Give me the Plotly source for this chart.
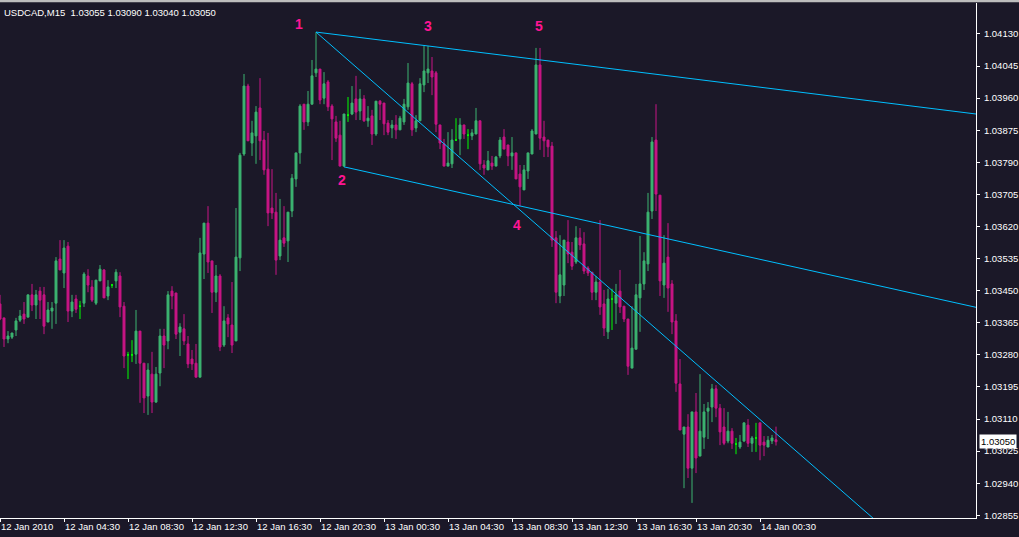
import plotly.graph_objects as go

# ---------------- data (USDCAD, M15) ----------------
opens = [1.03415,1.03378,1.03322,1.03327,1.03346,1.03372,1.03388,1.03380,1.03439,1.03412,
1.03449,1.03439,1.03367,1.03396,1.03417,1.03534,1.03497,1.03568,1.03396,1.03428,
1.03409,1.03417,1.03489,1.03460,1.03417,1.03476,1.03505,1.03436,1.03465,1.03476,
1.03489,1.03409,1.03280,1.03280,1.03282,1.03343,1.03258,1.03171,1.03229,1.03155,
1.03232,1.03330,1.03317,1.03449,1.03444,1.03340,1.03349,1.03309,1.03269,1.03258,
1.03221,1.03547,1.03629,1.03529,1.03446,1.03489,1.03306,1.03378,1.03359,1.03317,
1.03537,1.03812,1.03992,1.03841,1.03860,1.03934,1.03849,1.03772,1.03669,1.03658,
1.03542,1.03590,1.03582,1.03661,1.03746,1.03815,1.03944,1.03897,1.03944,1.04027,
1.04037,1.03960,1.04003,1.03939,1.03897,1.03862,1.03780,1.03915,1.03918,1.03958,
1.03926,1.03958,1.03900,1.03913,1.03865,1.03952,1.03947,1.03894,1.03881,1.03889,
1.03876,1.03897,1.03937,1.03998,1.03881,1.03900,1.03995,1.04027,1.04032,1.04027,
1.03889,1.03839,1.03780,1.03786,1.03849,1.03852,1.03889,1.03862,1.03860,1.03865,
1.03900,1.03783,1.03770,1.03788,1.03780,1.03807,1.03857,1.03836,1.03807,1.03815,
1.03759,1.03717,1.03767,1.03812,1.03865,1.04048,1.03857,1.03849,1.03833,1.03590,
1.03436,1.03465,1.03579,1.03552,1.03526,1.03590,1.03574,1.03510,1.03499,1.03446,
1.03473,1.03415,1.03341,1.03428,1.03417,1.03449,1.03409,1.03375,1.03245,1.03295,
1.03431,1.03468,1.03521,1.03661,1.03849,1.03703,1.03465,1.03539,1.03468,1.03370,
1.03203,1.03070,1.03089,1.02980,1.03129,1.03012,1.03062,1.03131,1.03142,1.03190,
1.03139,1.03089,1.03052,1.03078,1.03044,1.03036,1.03052,1.03094,1.03046,1.03060,
1.03100,1.03049,1.03036,1.03052,1.03055]

highs = [1.03439,1.03378,1.03343,1.03338,1.03378,1.03399,1.03420,1.03439,1.03468,1.03452,
1.03460,1.03460,1.03420,1.03420,1.03539,1.03584,1.03584,1.03579,1.03439,1.03439,
1.03423,1.03499,1.03507,1.03478,1.03478,1.03518,1.03507,1.03478,1.03468,1.03507,
1.03499,1.03420,1.03288,1.03319,1.03399,1.03343,1.03258,1.03258,1.03288,1.03248,
1.03349,1.03349,1.03449,1.03462,1.03444,1.03364,1.03388,1.03330,1.03293,1.03309,
1.03590,1.03621,1.03674,1.03529,1.03518,1.03494,1.03409,1.03388,1.03473,1.03669,
1.03815,1.04024,1.03998,1.03900,1.03939,1.04013,1.03873,1.03868,1.03772,1.03709,
1.03693,1.03674,1.03658,1.03759,1.03815,1.03944,1.03944,1.03979,1.04061,1.04135,
1.04037,1.04029,1.04008,1.03944,1.03913,1.03900,1.03918,1.03963,1.03992,1.04019,
1.03984,1.03968,1.03939,1.03929,1.03952,1.03955,1.03947,1.03902,1.03902,1.03915,
1.03913,1.03958,1.04053,1.04003,1.03915,1.04013,1.04098,1.04098,1.04069,1.04032,
1.03889,1.03852,1.03870,1.03878,1.03907,1.03907,1.03889,1.03878,1.03878,1.03934,
1.03900,1.03796,1.03820,1.03807,1.03807,1.03857,1.03878,1.03836,1.03857,1.03815,
1.03783,1.03783,1.03815,1.03878,1.04093,1.04093,1.03900,1.03849,1.03844,1.03608,
1.03597,1.03584,1.03637,1.03579,1.03621,1.03616,1.03605,1.03515,1.03499,1.03489,
1.03637,1.03452,1.03455,1.03455,1.03468,1.03505,1.03409,1.03375,1.03409,1.03468,
1.03595,1.03552,1.03709,1.03857,1.03944,1.03703,1.03597,1.03629,1.03478,1.03388,
1.03269,1.03089,1.03123,1.03129,1.03179,1.03229,1.03150,1.03155,1.03203,1.03200,
1.03150,1.03139,1.03129,1.03086,1.03060,1.03068,1.03100,1.03110,1.03065,1.03100,
1.03100,1.03065,1.03065,1.03068,1.03090]

lows = [1.03372,1.03301,1.03311,1.03322,1.03330,1.03367,1.03362,1.03380,1.03396,1.03375,
1.03375,1.03335,1.03367,1.03349,1.03362,1.03505,1.03457,1.03367,1.03380,1.03391,
1.03375,1.03407,1.03446,1.03420,1.03412,1.03476,1.03431,1.03425,1.03457,1.03457,
1.03380,1.03245,1.03216,1.03261,1.03256,1.03153,1.03126,1.03121,1.03126,1.03153,
1.03197,1.03245,1.03295,1.03401,1.03322,1.03277,1.03306,1.03245,1.03240,1.03221,
1.03221,1.03481,1.03497,1.03391,1.03420,1.03290,1.03301,1.03327,1.03285,1.03317,
1.03502,1.03807,1.03847,1.03807,1.03786,1.03796,1.03757,1.03621,1.03640,1.03492,
1.03531,1.03566,1.03526,1.03645,1.03725,1.03786,1.03876,1.03886,1.03944,1.04016,
1.03944,1.03944,1.03926,1.03796,1.03844,1.03780,1.03778,1.03897,1.03915,1.03902,
1.03902,1.03897,1.03884,1.03836,1.03860,1.03902,1.03862,1.03862,1.03854,1.03852,
1.03876,1.03889,1.03929,1.03860,1.03870,1.03900,1.03976,1.04000,1.03968,1.03870,
1.03825,1.03780,1.03780,1.03775,1.03847,1.03809,1.03852,1.03825,1.03849,1.03865,
1.03770,1.03757,1.03770,1.03770,1.03780,1.03801,1.03825,1.03780,1.03770,1.03746,
1.03674,1.03717,1.03746,1.03812,1.03865,1.03823,1.03804,1.03804,1.03566,1.03417,
1.03417,1.03436,1.03523,1.03505,1.03521,1.03558,1.03494,1.03489,1.03425,1.03425,
1.03386,1.03330,1.03322,1.03346,1.03362,1.03391,1.03367,1.03227,1.03245,1.03295,
1.03341,1.03452,1.03502,1.03640,1.03661,1.03436,1.03431,1.03394,1.03335,1.03182,
1.03081,1.02927,1.02954,1.02888,1.02967,1.03012,1.03031,1.03057,1.03102,1.03115,
1.03041,1.03041,1.03046,1.03031,1.03017,1.03031,1.03049,1.03036,1.03023,1.03023,
1.03001,1.03012,1.03036,1.03044,1.03040]

closes = [1.03375,1.03322,1.03330,1.03338,1.03370,1.03383,1.03375,1.03439,1.03412,1.03439,
1.03425,1.03356,1.03399,1.03404,1.03529,1.03505,1.03563,1.03396,1.03420,1.03401,
1.03409,1.03494,1.03465,1.03425,1.03478,1.03507,1.03431,1.03460,1.03465,1.03499,
1.03407,1.03277,1.03280,1.03280,1.03343,1.03258,1.03166,1.03240,1.03155,1.03229,
1.03330,1.03306,1.03439,1.03436,1.03335,1.03354,1.03317,1.03256,1.03256,1.03221,
1.03550,1.03629,1.03526,1.03446,1.03489,1.03301,1.03370,1.03362,1.03306,1.03539,
1.03809,1.03992,1.03847,1.03868,1.03923,1.03847,1.03770,1.03656,1.03656,1.03531,
1.03584,1.03576,1.03658,1.03748,1.03815,1.03939,1.03897,1.03944,1.04019,1.04037,
1.03955,1.03998,1.03937,1.03905,1.03854,1.03780,1.03918,1.03915,1.03947,1.03923,
1.03958,1.03900,1.03907,1.03865,1.03952,1.03944,1.03892,1.03870,1.03889,1.03876,
1.03907,1.03944,1.04000,1.03876,1.03900,1.03998,1.04032,1.04037,1.04016,1.03891,
1.03841,1.03780,1.03788,1.03849,1.03849,1.03889,1.03865,1.03862,1.03868,1.03900,
1.03786,1.03775,1.03794,1.03780,1.03804,1.03849,1.03825,1.03807,1.03815,1.03746,
1.03725,1.03770,1.03815,1.03873,1.04048,1.03854,1.03847,1.03831,1.03584,1.03446,
1.03492,1.03584,1.03547,1.03515,1.03590,1.03571,1.03502,1.03497,1.03446,1.03473,
1.03407,1.03351,1.03428,1.03428,1.03439,1.03407,1.03375,1.03250,1.03298,1.03439,
1.03468,1.03529,1.03658,1.03844,1.03706,1.03476,1.03523,1.03457,1.03367,1.03205,
1.03081,1.03089,1.02980,1.03129,1.03007,1.03078,1.03129,1.03139,1.03190,1.03139,
1.03076,1.03046,1.03078,1.03046,1.03044,1.03049,1.03100,1.03046,1.03060,1.03060,
1.03041,1.03041,1.03054,1.03060,1.03050]

bar_index = list(range(len(opens)))

time_tick_pos = [0, 16, 32, 48, 64, 80, 96, 112, 128, 143, 159, 174, 190]
time_tick_labels = ["12 Jan 2010", "12 Jan 04:30", "12 Jan 08:30", "12 Jan 12:30",
                    "12 Jan 16:30", "12 Jan 20:30", "13 Jan 00:30", "13 Jan 04:30",
                    "13 Jan 08:30", "13 Jan 12:30", "13 Jan 16:30", "13 Jan 20:30",
                    "14 Jan 00:30"]
price_ticks = [1.02855, 1.02940, 1.03025, 1.03110, 1.03195, 1.03280, 1.03365, 1.03450,
               1.03535, 1.03620, 1.03705, 1.03790, 1.03875, 1.03960, 1.04045, 1.04130]

# trend lines (anchor points: bar index, price)
line_135_x = [79, 244]
line_135_y = [1.04135, 1.03918]
line_24_x = [86, 244]
line_24_y = [1.03778, 1.03406]
line_14_x = [79, 219.4]
line_14_y = [1.04135, 1.02837]

wave_labels = ["1", "2", "3", "4", "5"]
wave_x = [74.75, 85.5, 107, 129.25, 134.75]
wave_y = [1.04157, 1.03743, 1.04151, 1.03624, 1.04151]

title_text = "USDCAD,M15  1.03055 1.03090 1.03040 1.03050"
last_price = 1.03050

# ---------------- styling ----------------
BG = "#1b1828"
UP = "#3CB371"
DOWN = "#C71585"
DOJI = "#00FF00"
TREND = "#00BFFF"
WAVE = "#FF1493"
FONT = "Liberation Sans, Arial, sans-serif"


def subset(cond):
    idx = [i for i in bar_index if cond(opens[i], closes[i])]
    return (idx, [opens[i] for i in idx], [highs[i] for i in idx],
            [lows[i] for i in idx], [closes[i] for i in idx])


fig = go.Figure()
for cond, col in [(lambda o, c: c > o, UP), (lambda o, c: c < o, DOWN), (lambda o, c: c == o, DOJI)]:
    x, o, h, l, c = subset(cond)
    fig.add_trace(go.Candlestick(
        x=x, open=o, high=h, low=l, close=c,
        increasing=dict(line=dict(color=col, width=1), fillcolor=col),
        decreasing=dict(line=dict(color=col, width=1), fillcolor=col),
        whiskerwidth=0, hoverinfo="skip", showlegend=False))

for lx, ly in [(line_135_x, line_135_y), (line_24_x, line_24_y), (line_14_x, line_14_y)]:
    fig.add_trace(go.Scatter(x=lx, y=ly, mode="lines",
                             line=dict(color=TREND, width=1), hoverinfo="skip",
                             showlegend=False))

annotations = []
for t, x, y in zip(wave_labels, wave_x, wave_y):
    annotations.append(dict(x=x, y=y, xref="x", yref="y", text="<b>%s</b>" % t,
                            showarrow=False, font=dict(family="Liberation Sans, Arial", size=14, color=WAVE)))
annotations.append(dict(x=0, y=1, xref="paper", yref="paper", xanchor="left", yanchor="top",
                        xshift=2, yshift=-2, text=title_text, showarrow=False,
                        font=dict(family=FONT, size=9.5, color="#ffffff")))
annotations.append(dict(x=1, y=last_price, xref="paper", yref="y", xanchor="left", yanchor="middle",
                        xshift=3, text="%.5f" % last_price, showarrow=False, bgcolor="#ffffff",
                        borderpad=1, font=dict(family=FONT, size=9.5, color="#000000")))

fig.update_layout(
    width=1019, height=537,
    margin=dict(l=0, r=43, t=3, b=19, autoexpand=False),
    paper_bgcolor=BG, plot_bgcolor=BG,
    showlegend=False,
    annotations=annotations,
    shapes=[dict(type="rect", xref="paper", yref="paper", x0=-0.01, x1=1.06,
                 y0=1 + 0.8 / 515, y1=1 + 4 / 515, fillcolor="#bdbdbd", line=dict(width=0))],
    xaxis=dict(range=[0, 244], rangeslider=dict(visible=False), showgrid=False, zeroline=False,
               automargin=False, tickangle=0,
               showline=True, linecolor="#ffffff", linewidth=1,
               ticks="outside", ticklen=3, tickcolor="#ffffff",
               tickvals=time_tick_pos, ticktext=time_tick_labels,
               ticklabelposition="outside right", ticklabelstandoff=0,
               tickfont=dict(family=FONT, size=9.5, color="#ffffff")),
    yaxis=dict(side="right", range=[1.02848, 1.04212], showgrid=False, zeroline=False,
               automargin=False,
               showline=True, linecolor="#ffffff", linewidth=1,
               ticks="outside", ticklen=3, tickcolor="#ffffff",
               tickvals=price_ticks, tickformat=".5f", ticklabelstandoff=2,
               tickfont=dict(family=FONT, size=9.5, color="#ffffff")),
)

fig.write_html("out.html", config={"displayModeBar": False},
               post_script="document.body.style.margin='0';document.body.style.background='%s';" % BG)
